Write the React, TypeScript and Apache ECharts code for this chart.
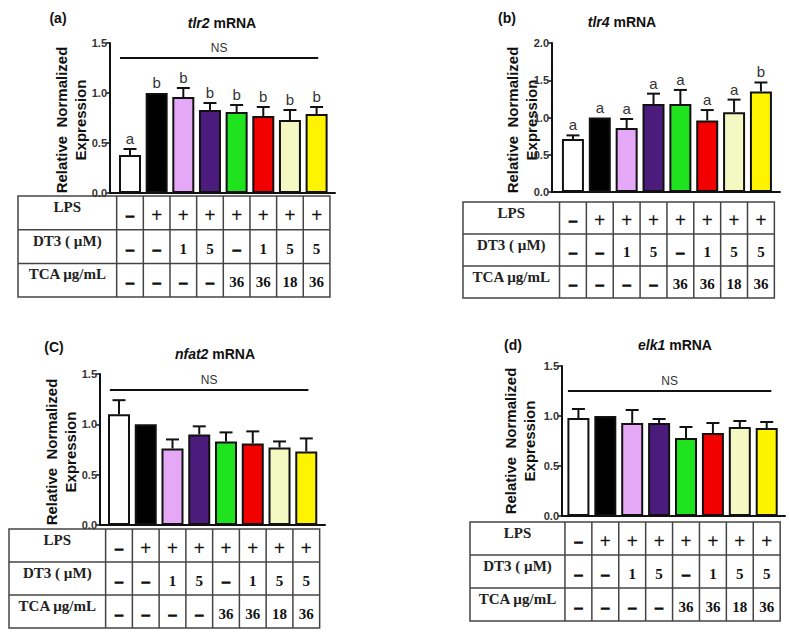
import React, { useEffect, useRef } from 'react';
import * as echarts from 'echarts';

const SANS = '"Liberation Sans", Arial, sans-serif';
const SERIF = '"Liberation Serif", "Times New Roman", serif';

// ---- data ----
const categories = ['Control', 'LPS', 'LPS+DT3 1', 'LPS+DT3 5', 'LPS+TCA 36', 'LPS+DT3 1+TCA 36', 'LPS+DT3 5+TCA 18', 'LPS+DT3 5+TCA 36'];
const barColors = ['#ffffff', '#000000', '#e4a8f6', '#4b1c7c', '#1fe31f', '#f20000', '#f4f8c2', '#fff400'];

const tlr2Mean = [0.38, 1.0, 0.96, 0.83, 0.81, 0.77, 0.73, 0.79];
const tlr2Err = [0.06, 0, 0.09, 0.07, 0.07, 0.09, 0.1, 0.07];
const tlr2Letters = ['a', 'b', 'b', 'b', 'b', 'b', 'b', 'b'];

const tlr4Mean = [0.71, 1.0, 0.86, 1.18, 1.18, 0.96, 1.07, 1.35];
const tlr4Err = [0.05, 0, 0.12, 0.14, 0.19, 0.14, 0.17, 0.12];
const tlr4Letters = ['a', 'a', 'a', 'a', 'a', 'a', 'a', 'b'];

const nfat2Mean = [1.1, 1.0, 0.76, 0.9, 0.83, 0.81, 0.77, 0.73];
const nfat2Err = [0.14, 0, 0.09, 0.08, 0.09, 0.12, 0.06, 0.13];
const nfat2Letters: string[] = [];

const elk1Mean = [0.98, 1.0, 0.93, 0.93, 0.78, 0.83, 0.89, 0.88];
const elk1Err = [0.09, 0, 0.13, 0.04, 0.11, 0.1, 0.06, 0.06];
const elk1Letters: string[] = [];

const yTicks15 = ['0.0', '0.5', '1.0', '1.5'];
const yTicks20 = ['0.0', '0.5', '1.0', '1.5', '2.0'];

const rowLabels = ['LPS', 'DT3 ( µM)', 'TCA µg/mL'];
const lpsRow = ['–', '+', '+', '+', '+', '+', '+', '+'];
const dt3Row = ['–', '–', '1', '5', '–', '1', '5', '5'];
const tcaRow = ['–', '–', '–', '–', '36', '36', '18', '36'];
const tableRows = [lpsRow, dt3Row, tcaRow];

const panels = [
  { tag: '(a)', gene: 'tlr2', mean: tlr2Mean, err: tlr2Err, letters: tlr2Letters, ns: true, yTicks: yTicks15 },
  { tag: '(b)', gene: 'tlr4', mean: tlr4Mean, err: tlr4Err, letters: tlr4Letters, ns: false, yTicks: yTicks20 },
  { tag: '(C)', gene: 'nfat2', mean: nfat2Mean, err: nfat2Err, letters: nfat2Letters, ns: true, yTicks: yTicks15 },
  { tag: '(d)', gene: 'elk1', mean: elk1Mean, err: elk1Err, letters: elk1Letters, ns: true, yTicks: yTicks15 },
];

// ---- layout ----
const layouts = [
  { grid: { left: 110, top: 43, width: 225, height: 150 }, xMin: -0.75, xMax: 7.69, tag: [58, 18], title: [222, 23], yName: [71, 120], ns: { x0: -0.375, x1: 7.06, y: 1.35 }, table: { left: 18, top: 196, rowH: 33.7 } },
  { grid: { left: 552, top: 43, width: 228, height: 149 }, xMin: -0.78, xMax: 7.71, tag: [507, 18], title: [622, 22], yName: [522, 120], ns: null, table: { left: 463, top: 202, rowH: 32 } },
  { grid: { left: 100, top: 374, width: 225, height: 151 }, xMin: -0.71, xMax: 7.7, tag: [54, 347], title: [215, 354], yName: [61, 452], ns: { x0: -0.34, x1: 7.08, y: 1.34 }, table: { left: 9, top: 529, rowH: 33 } },
  { grid: { left: 562, top: 366, width: 223, height: 150 }, xMin: -0.61, xMax: 7.68, tag: [513, 345], title: [675, 345], yName: [520, 441], ns: { x0: -0.39, x1: 7.17, y: 1.25 }, table: { left: 470, top: 522, rowH: 33 } },
];

function buildOption(): any {
  const series: any[] = [];
  panels.forEach((p, i) => {
    series.push({
      type: 'bar',
      name: p.gene,
      xAxisIndex: i,
      yAxisIndex: i,
      barWidth: 22,
      data: p.mean.map((v, k) => ({ value: [k, v], name: categories[k], itemStyle: { color: barColors[k] } })),
      itemStyle: { borderColor: '#111', borderWidth: 2 },
      z: 2,
    });
    series.push({
      type: 'custom',
      xAxisIndex: i,
      yAxisIndex: i,
      z: 3,
      clip: false,
      data: p.mean.map((v, k) => [k, v, p.err[k]]),
      renderItem: (params: any, api: any) => {
        const idx = params.dataIndex;
        const x = api.value(0);
        const m = api.value(1);
        const e = api.value(2);
        const p0 = api.coord([x, m]);
        const p1 = api.coord([x, m + e]);
        const children: any[] = [];
        if (e > 0) {
          children.push({ type: 'line', shape: { x1: p0[0], y1: p0[1], x2: p1[0], y2: p1[1] }, style: { stroke: '#111', lineWidth: 2 } });
          children.push({ type: 'line', shape: { x1: p1[0] - 6.5, y1: p1[1], x2: p1[0] + 6.5, y2: p1[1] }, style: { stroke: '#111', lineWidth: 2 } });
        }
        const letter = p.letters[idx];
        if (letter) {
          children.push({ type: 'text', x: p1[0], y: p1[1] - 3, style: { text: letter, fontSize: 15, fontFamily: SANS, fill: '#333', align: 'center', verticalAlign: 'bottom' } });
        }
        return { type: 'group', children };
      },
    });
  });

  return {
    animation: false,
    grid: layouts.map((l) => ({ ...l.grid, containLabel: false })),
    xAxis: layouts.map((l, i) => ({
      gridIndex: i,
      type: 'value',
      min: l.xMin,
      max: l.xMax,
      axisLine: { show: true, onZero: false, lineStyle: { color: '#111', width: 2 } },
      axisTick: { show: false },
      axisLabel: { show: false },
      splitLine: { show: false },
    })),
    yAxis: panels.map((p, i) => ({
      gridIndex: i,
      type: 'value',
      min: 0,
      max: Number(p.yTicks[p.yTicks.length - 1]),
      interval: 0.5,
      axisLine: { show: true, onZero: false, lineStyle: { color: '#111', width: 2 } },
      axisTick: { show: true, length: 4, lineStyle: { color: '#111', width: 1.5 } },
      axisLabel: {
        formatter: (v: number) => p.yTicks[Math.round(v / 0.5)] ?? '',
        fontFamily: SANS,
        fontWeight: 'bold',
        fontSize: 11,
        color: '#333',
        margin: 3,
      },
      splitLine: { show: false },
    })),
    series,
  };
}

function buildGraphics(chart: any): any[] {
  const g: any[] = [];
  panels.forEach((p, i) => {
    const l = layouts[i];
    g.push({ type: 'text', x: l.tag[0], y: l.tag[1], style: { text: p.tag, fontFamily: SANS, fontWeight: 'bold', fontSize: 14, fill: '#111', align: 'center', verticalAlign: 'middle' } });
    g.push({
      type: 'text', x: l.title[0], y: l.title[1],
      style: {
        text: `{i|${p.gene}}{n| mRNA}`,
        align: 'center', verticalAlign: 'middle',
        rich: {
          i: { fontFamily: SANS, fontWeight: 'bold', fontStyle: 'italic', fontSize: 14, fill: '#111' },
          n: { fontFamily: SANS, fontWeight: 'bold', fontSize: 14, fill: '#111' },
        },
      },
    });
    g.push({
      type: 'text', x: l.yName[0], y: l.yName[1], rotation: Math.PI / 2,
      style: { text: 'Relative  Normalized\nExpression', fontFamily: SANS, fontWeight: 'bold', fontSize: 15, lineHeight: 19, fill: '#111', align: 'center', verticalAlign: 'middle' },
    });

    const px = (x: number, y: number) => chart.convertToPixel({ gridIndex: i }, [x, y]);

    if (p.ns && l.ns) {
      const a = px(l.ns.x0, l.ns.y);
      const b = px(l.ns.x1, l.ns.y);
      g.push({ type: 'line', shape: { x1: a[0], y1: a[1], x2: b[0], y2: b[1] }, style: { stroke: '#111', lineWidth: 2 } });
      g.push({ type: 'text', x: (a[0] + b[0]) / 2, y: a[1] - 4, style: { text: 'NS', fontFamily: SANS, fontSize: 12, fill: '#333', align: 'center', verticalAlign: 'bottom' } });
    }

    // table
    const t = l.table;
    const colEdges: number[] = [];
    for (let k = 0; k <= categories.length; k++) colEdges.push(px(k - 0.5, 0)[0]);
    const left = t.left;
    const right = colEdges[colEdges.length - 1];
    const top = t.top;
    const bottom = top + t.rowH * 3;
    const lineStyle = { stroke: '#444', lineWidth: 1.5 };
    g.push({ type: 'rect', shape: { x: left, y: top, width: right - left, height: bottom - top }, style: { fill: 'none', ...lineStyle } });
    for (let r = 1; r < 3; r++) {
      const y = top + t.rowH * r;
      g.push({ type: 'line', shape: { x1: left, y1: y, x2: right, y2: y }, style: lineStyle });
    }
    for (let k = 0; k < colEdges.length - 1; k++) {
      g.push({ type: 'line', shape: { x1: colEdges[k], y1: top, x2: colEdges[k], y2: bottom }, style: lineStyle });
    }
    rowLabels.forEach((lab, r) => {
      const y0 = top + t.rowH * r;
      g.push({ type: 'text', x: (left + colEdges[0]) / 2, y: y0 + 11, style: { text: lab, fontFamily: SERIF, fontWeight: 'bold', fontSize: 15, fill: '#222', align: 'center', verticalAlign: 'middle' } });
      tableRows[r].forEach((val, k) => {
        const isDash = val === '–';
        g.push({
          type: 'text', x: (colEdges[k] + colEdges[k + 1]) / 2, y: y0 + t.rowH / 2 + 2,
          style: {
            text: val, fontFamily: SERIF, fontWeight: 'bold', fontSize: val === '+' ? 20 : 15,
            fill: '#111', align: 'center', verticalAlign: 'middle',
            stroke: isDash ? '#111' : undefined, lineWidth: isDash ? 1.2 : 0,
          },
        });
      });
    });
  });
  return g;
}

export default function App() {
  const ref = useRef<HTMLDivElement>(null);
  useEffect(() => {
    if (!ref.current) return;
    const chart = echarts.init(ref.current, undefined, { renderer: 'svg' });
    chart.setOption(buildOption());
    chart.setOption({ graphic: buildGraphics(chart) });
    return () => chart.dispose();
  }, []);
  return <div ref={ref} style={{ position: 'absolute', left: 0, top: 0, width: 790, height: 642, background: '#fff' }} />;
}
